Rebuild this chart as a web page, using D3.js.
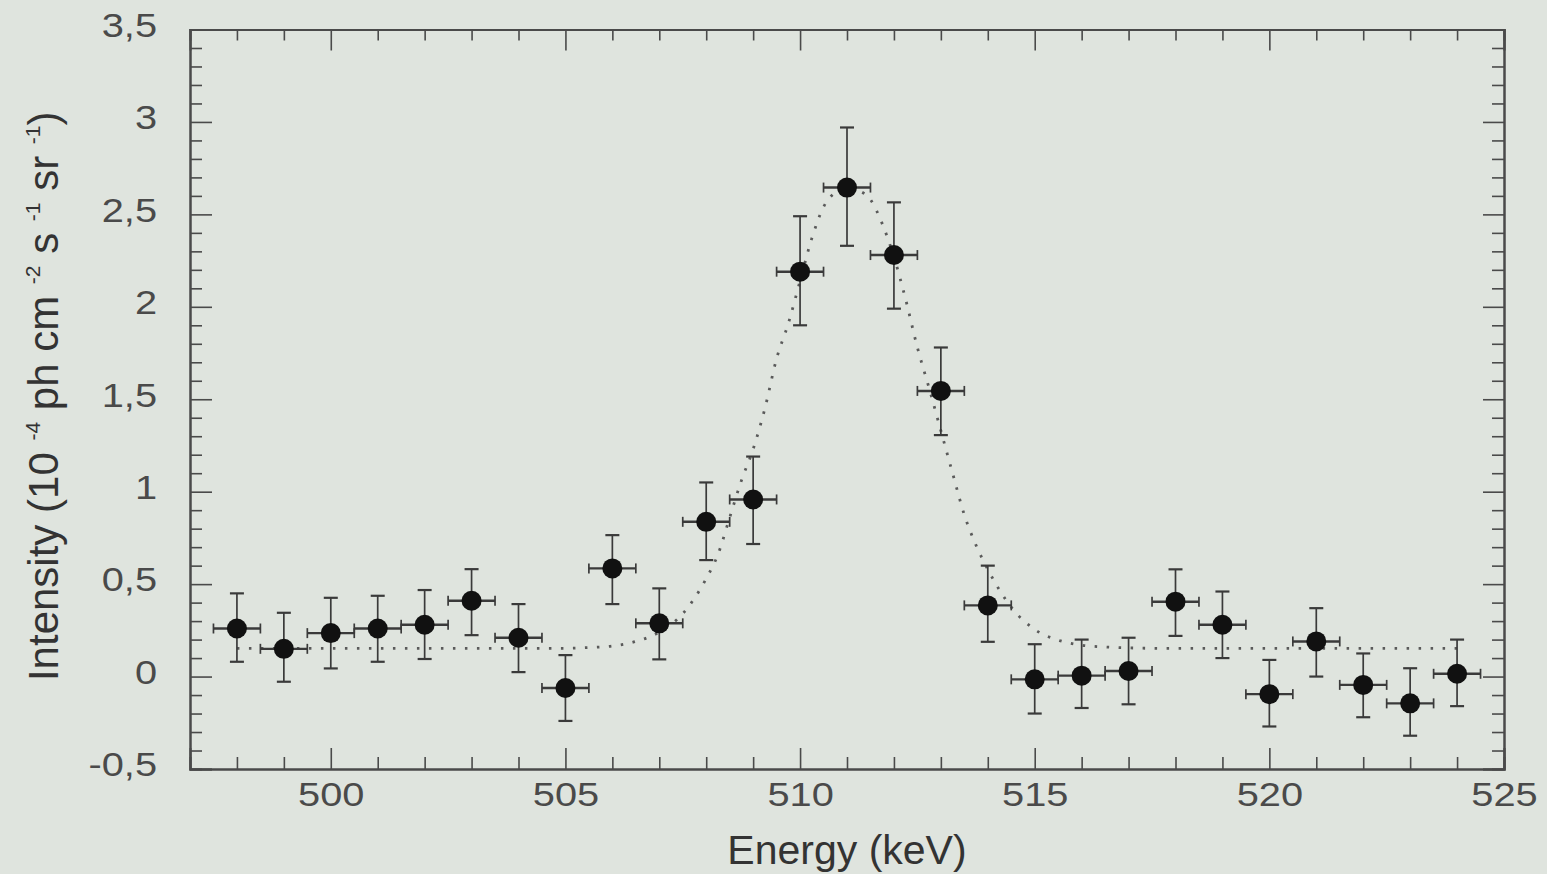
<!DOCTYPE html>
<html>
<head>
<meta charset="utf-8">
<script src="https://cdn.jsdelivr.net/npm/d3@7"></script>
<style>
  html, body { margin: 0; padding: 0; background: #dfe4de; }
  svg { display: block; font-family: "Liberation Sans", Arial, sans-serif; }
  .axis path, .axis line { stroke: #4a4a4a; }
  .axis text { fill: #4a4a4a; }
</style>
</head>
<body>
<div id="canvas"></div>
<script>
// measured points: energy (keV), intensity and error bar bounds
var energy = [498,499,500,501,502,503,504,505,506,507,508,509,510,511,512,513,514,515,516,517,518,519,520,521,522,523,524];
var intensity = [0.26,0.15,0.235,0.26,0.28,0.41,0.21,-0.062,0.585,0.288,0.837,0.958,2.19,2.645,2.28,1.545,0.385,-0.015,0.005,0.03,0.405,0.28,-0.095,0.19,-0.045,-0.145,0.015];
var errHigh = [0.45,0.345,0.426,0.437,0.468,0.581,0.392,0.116,0.765,0.477,1.05,1.19,2.49,2.97,2.565,1.78,0.6,0.175,0.2,0.21,0.58,0.46,0.09,0.37,0.125,0.045,0.2];
var errLow = [0.08,-0.028,0.044,0.08,0.095,0.224,0.024,-0.24,0.392,0.093,0.63,0.717,1.9,2.33,1.99,1.306,0.188,-0.2,-0.17,-0.15,0.22,0.1,-0.27,0.0,-0.22,-0.32,-0.16];
var binHalf = 0.5;

// fitted line
var fitE = [498,504,505,505.5,506,506.5,507,507.5,508,508.25,508.5,508.75,509,509.25,509.5,509.75,510,510.25,510.5,510.75,511,511.25,511.5,511.75,512,512.25,512.5,512.75,513,513.25,513.5,513.75,514,514.5,515,515.5,516,516.5,517,518,524];
var fitI = [0.152,0.152,0.153,0.157,0.165,0.19,0.24,0.34,0.53,0.66,0.86,1.06,1.23,1.45,1.72,1.91,2.14,2.37,2.54,2.62,2.65,2.63,2.58,2.45,2.27,2.04,1.78,1.56,1.33,1.1,0.875,0.71,0.58,0.375,0.255,0.197,0.17,0.16,0.155,0.152,0.152];

var xMajor = [500,505,510,515,520,525];
var xMinor = [498,499,501,502,503,504,506,507,508,509,511,512,513,514,516,517,518,519,521,522,523,524];
var yMajor = [-0.5,0,0.5,1,1.5,2,2.5,3,3.5];
var yMinor = [-0.4,-0.3,-0.2,-0.1,0.1,0.2,0.3,0.4,0.6,0.7,0.8,0.9,1.1,1.2,1.3,1.4,1.6,1.7,1.8,1.9,2.1,2.2,2.3,2.4,2.6,2.7,2.8,2.9,3.1,3.2,3.3,3.4];

var m = {t:29.5, r:43, b:105, l:190};
var outerWidth = 1547, outerHeight = 874;
var w = outerWidth - m.l - m.r,
    h = outerHeight - m.t - m.b;

var svg = d3.select('#canvas').append('svg')
    .attr('width', outerWidth)
    .attr('height', outerHeight);

var plot = svg.append('g')
    .attr('transform', 'translate(' + m.l + ',' + m.t + ')');

var scaleX = d3.scaleLinear().domain([497,525]).range([0,w]);
var scaleY = d3.scaleLinear().domain([-0.5,3.5]).range([h,0]);

var fmt = function(d){ return String(d).replace('.', ','); };
var noLabel = function(){ return ''; };

// bottom + left with labels, ticks pointing inward
var gx = plot.append('g').attr('class','axis axis-x')
    .attr('transform','translate(0,' + h + ')')
    .call(d3.axisBottom(scaleX).tickValues(xMajor).tickSize(-21).tickPadding(13).tickFormat(fmt));
plot.append('g').attr('class','axis')
    .attr('transform','translate(0,' + h + ')')
    .call(d3.axisBottom(scaleX).tickValues(xMinor).tickSize(-12).tickFormat(noLabel));

var gy = plot.append('g').attr('class','axis axis-y')
    .call(d3.axisLeft(scaleY).tickValues(yMajor).tickSize(-22).tickPadding(33).tickFormat(fmt));
plot.append('g').attr('class','axis')
    .call(d3.axisLeft(scaleY).tickValues(yMinor).tickSize(-12).tickFormat(noLabel));

// top + right mirrors
plot.append('g').attr('class','axis')
    .call(d3.axisTop(scaleX).tickValues(xMajor).tickSize(-21).tickFormat(noLabel));
plot.append('g').attr('class','axis')
    .call(d3.axisTop(scaleX).tickValues(xMinor).tickSize(-11).tickFormat(noLabel));
plot.append('g').attr('class','axis')
    .attr('transform','translate(' + w + ',0)')
    .call(d3.axisRight(scaleY).tickValues(yMajor).tickSize(-21).tickFormat(noLabel));
plot.append('g').attr('class','axis')
    .attr('transform','translate(' + w + ',0)')
    .call(d3.axisRight(scaleY).tickValues(yMinor).tickSize(-12).tickFormat(noLabel));

plot.selectAll('.axis path').attr('stroke-width', 2).attr('fill','none');
plot.selectAll('.axis line').attr('stroke-width', 1.6);

gx.selectAll('text')
    .style('font-size','34px')
    .attr('transform','scale(1.17,1)');
gy.selectAll('text')
    .style('font-size','34px')
    .attr('dy','0.2em')
    .attr('x', -33/1.17)
    .attr('transform','scale(1.17,1)');

// fit curve (dotted)
var line = d3.line()
    .x(function(d){ return scaleX(d[0]); })
    .y(function(d){ return scaleY(d[1]); })
    .curve(d3.curveMonotoneX);

plot.append('path')
    .datum(fitE.map(function(e,i){ return [e, fitI[i]]; }))
    .attr('d', line)
    .attr('fill','none')
    .attr('stroke','#5a5a5a')
    .attr('stroke-width',2.8)
    .attr('stroke-dasharray','2.5,9.5');

var pts = energy.map(function(e,i){
    return {e:e, v:intensity[i], hi:errHigh[i], lo:errLow[i]};
});

var bars = plot.selectAll('.pt').data(pts).enter()
    .append('g').attr('class','pt')
    .attr('stroke','#3a3a3a')
    .attr('stroke-width',1.7);

// vertical error bar + caps
bars.append('line')
    .attr('x1', function(d){ return scaleX(d.e); })
    .attr('x2', function(d){ return scaleX(d.e); })
    .attr('y1', function(d){ return scaleY(d.hi); })
    .attr('y2', function(d){ return scaleY(d.lo); });
bars.append('line')
    .attr('x1', function(d){ return scaleX(d.e) - 7; })
    .attr('x2', function(d){ return scaleX(d.e) + 7; })
    .attr('y1', function(d){ return scaleY(d.hi); })
    .attr('y2', function(d){ return scaleY(d.hi); })
    .attr('stroke-width',2.2);
bars.append('line')
    .attr('x1', function(d){ return scaleX(d.e) - 7; })
    .attr('x2', function(d){ return scaleX(d.e) + 7; })
    .attr('y1', function(d){ return scaleY(d.lo); })
    .attr('y2', function(d){ return scaleY(d.lo); })
    .attr('stroke-width',2.2);

// horizontal bin bar + caps
bars.append('line')
    .attr('x1', function(d){ return scaleX(d.e - binHalf); })
    .attr('x2', function(d){ return scaleX(d.e + binHalf); })
    .attr('y1', function(d){ return scaleY(d.v); })
    .attr('y2', function(d){ return scaleY(d.v); })
    .attr('stroke-width',2.4);
bars.append('line')
    .attr('x1', function(d){ return scaleX(d.e - binHalf); })
    .attr('x2', function(d){ return scaleX(d.e - binHalf); })
    .attr('y1', function(d){ return scaleY(d.v) - 5; })
    .attr('y2', function(d){ return scaleY(d.v) + 5; });
bars.append('line')
    .attr('x1', function(d){ return scaleX(d.e + binHalf); })
    .attr('x2', function(d){ return scaleX(d.e + binHalf); })
    .attr('y1', function(d){ return scaleY(d.v) - 5; })
    .attr('y2', function(d){ return scaleY(d.v) + 5; });

plot.selectAll('.dot').data(pts).enter()
    .append('circle').attr('class','dot')
    .attr('cx', function(d){ return scaleX(d.e); })
    .attr('cy', function(d){ return scaleY(d.v); })
    .attr('r', 10)
    .attr('fill','#111');

// titles
svg.append('text')
    .attr('x', m.l + w/2)
    .attr('y', 864)
    .attr('text-anchor','middle')
    .style('font-size','41px')
    .attr('fill','#333')
    .text('Energy (keV)');

var yt = svg.append('text')
    .attr('transform','translate(58,' + (m.t + h/2 - 3) + ') rotate(-90)')
    .attr('text-anchor','middle')
    .style('font-size','42px')
    .attr('fill','#333');
yt.append('tspan').text('Intensity (10 ');
yt.append('tspan').attr('dy',-18).style('font-size','21px').text('-4');
yt.append('tspan').attr('dy',18).text(' ph cm ');
yt.append('tspan').attr('dy',-18).style('font-size','21px').text('-2');
yt.append('tspan').attr('dy',18).text(' s ');
yt.append('tspan').attr('dy',-18).style('font-size','21px').text('-1');
yt.append('tspan').attr('dy',18).text(' sr ');
yt.append('tspan').attr('dy',-18).style('font-size','21px').text('-1');
yt.append('tspan').attr('dy',18).text(')');
</script>
</body>
</html>
